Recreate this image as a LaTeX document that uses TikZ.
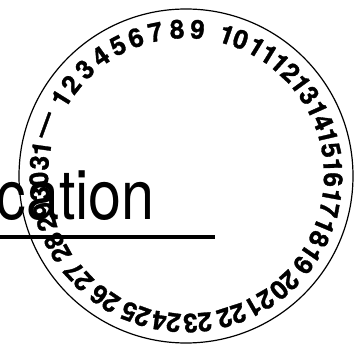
\documentclass[tikz,border=0pt]{standalone}
\usepackage{fontspec}
\usepackage{graphicx}
\setmainfont{TeX Gyre Heros}
\newfontfamily\dialfont[FakeBold=1.2]{TeX Gyre Heros Bold}

\begin{document}
\begin{tikzpicture}[
    x=1pt, y=1pt,
    num/.style={inner sep=0pt, font=\dialfont\fontsize{26}{26}\selectfont},
    word/.style={inner sep=0pt, font=\fontsize{69}{69}\selectfont},
    dial/.style={circle, draw, line width=1.2pt, minimum size=334pt, inner sep=0pt}
]
    \useasboundingbox (-186,-174) rectangle (175,176);

    \node[dial] (ring) at (0,0) {};

    \node[word, anchor=base east] (cation) at (-31,-44) {\scalebox{0.86}[1]{cation}};
    \draw[line width=4pt] (-186,-61) -- (29,-61);

    \node[num, rotate=70]     (dash) at (160:147pt)  {—};
    \node[num, rotate=58.1]   (n1)   at (148.1:147pt) {1};
    \node[num, rotate=51.5]   (n2)   at (141.5:147pt) {2};
    \node[num, rotate=43.5]   (n3)   at (133.5:147pt) {3};
    \node[num, rotate=35.5]   (n4)   at (125.5:147pt) {4};
    \node[num, rotate=27.6]   (n5)   at (117.6:147pt) {5};
    \node[num, rotate=20]     (n6)   at (110:147pt)   {6};
    \node[num, rotate=12]     (n7)   at (102:147pt)   {7};
    \node[num, rotate=3.5]    (n8)   at (93.5:147pt)  {8};
    \node[num, rotate=-4.5]   (n9)   at (85.5:147pt)  {9};
    \node[num, rotate=-19]    (n10)  at (71:147pt)    {10};
    \node[num, rotate=-31.5]  (n11)  at (58.5:147pt)  {11};
    \node[num, rotate=-42.5]  (n12)  at (47.5:147pt)  {12};
    \node[num, rotate=-54]    (n13)  at (36:147pt)    {13};
    \node[num, rotate=-65.8]  (n14)  at (24.2:147pt)  {14};
    \node[num, rotate=-77]    (n15)  at (13:147pt)    {15};
    \node[num, rotate=-88.6]  (n16)  at (1.4:147pt)   {16};
    \node[num, rotate=-100.5] (n17)  at (-10.5:147pt) {17};
    \node[num, rotate=-112.6] (n18)  at (-22.6:147pt) {18};
    \node[num, rotate=-124.5] (n19)  at (-34.5:147pt) {19};
    \node[num, rotate=-138]   (n20)  at (-48:147pt)   {20};
    \node[num, rotate=-150]   (n21)  at (-60:147pt)   {21};
    \node[num, rotate=-162]   (n22)  at (-72:147pt)   {22};
    \node[num, rotate=-175.5] (n23)  at (-85.5:147pt) {23};
    \node[num, rotate=-187.7] (n24)  at (-97.7:147pt) {24};
    \node[num, rotate=-200]   (n25)  at (-110:147pt)  {25};
    \node[num, rotate=-213.5] (n26)  at (-123.5:147pt) {26};
    \node[num, rotate=-227]   (n27)  at (-137:147pt)  {27};
    \node[num, rotate=-241]   (n28)  at (-151:147pt)  {28};
    \node[num, rotate=-254]   (n29)  at (-164:147pt)  {29};
    \node[num, rotate=-266]   (n30)  at (-176:147pt)  {30};
    \node[num, rotate=-278]   (n31)  at (-188:147pt)  {31};
\end{tikzpicture}
\end{document}
